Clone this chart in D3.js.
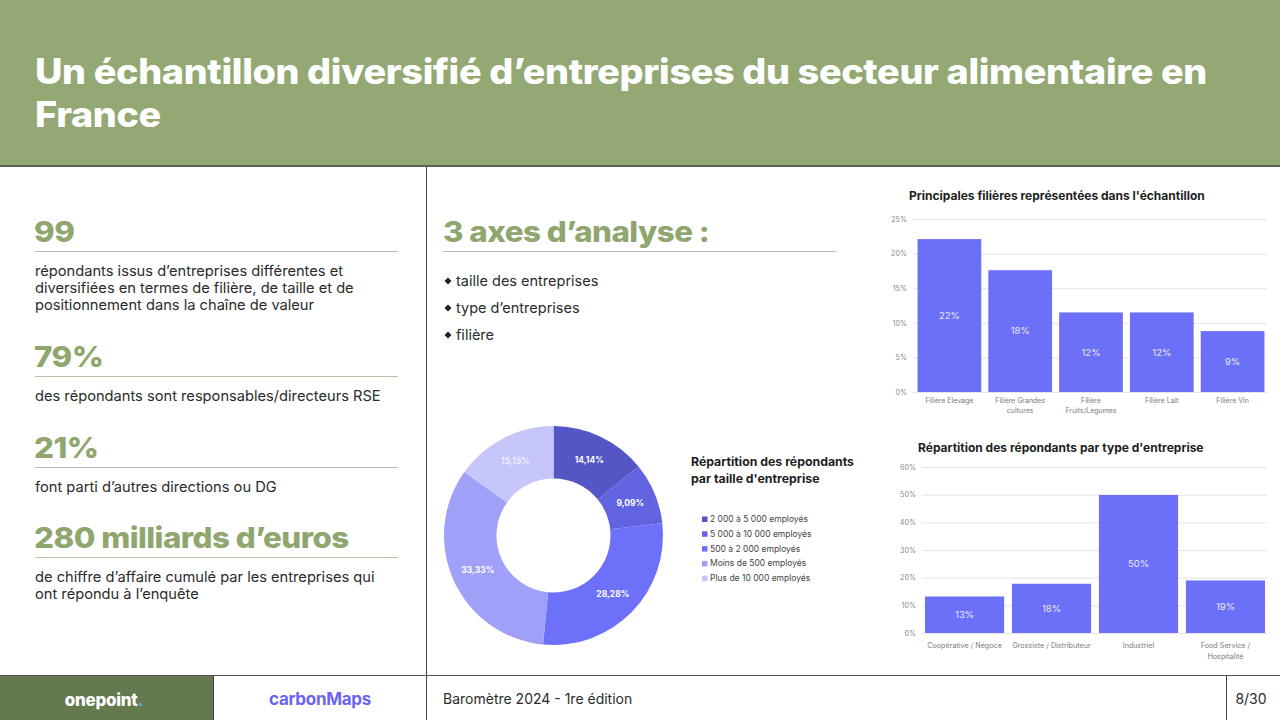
<!DOCTYPE html>
<html>
<head>
<meta charset="utf-8">
<script src="https://cdn.jsdelivr.net/npm/d3@7"></script>
<style>
  html, body { margin: 0; padding: 0; background: #fff; }
  svg { display: block; }
  text { font-family: Inter, "Noto Sans", sans-serif; }
</style>
</head>
<body>
<svg id="slide" width="1280" height="720"></svg>
<script>
// ---- data ----
const titleLines = ["Un échantillon diversifié d’entreprises du secteur alimentaire en", "France"];

const keyFigures = ["99", "79%", "21%", "280 milliards d’euros"];
const keyTexts = [
  ["répondants issus d’entreprises différentes et", "diversifiées en termes de filière, de taille et de", "positionnement dans la chaîne de valeur"],
  ["des répondants sont responsables/directeurs RSE"],
  ["font parti d’autres directions ou DG"],
  ["de chiffre d’affaire cumulé par les entreprises qui", "ont répondu à l’enquête"]
];

const axesItems = ["taille des entreprises", "type d’entreprises", "filière"];

const sizeLabels = ["2 000 à 5 000 employés", "5 000 à 10 000 employés", "500 à 2 000 employés", "Moins de 500 employés", "Plus de 10 000 employés"];
const sizeValues = [14.14, 9.09, 28.28, 33.33, 15.15];
const sizeColors = ["#5556c6", "#6163e0", "#6d70f9", "#9fa1f8", "#c6c6fa"];

const filiereLabels = [["Filière Elevage"], ["Filière Grandes", "cultures"], ["Filière", "Fruits/Legumes"], ["Filière Lait"], ["Filière Vin"]];
const filiereValues = [22.1, 17.6, 11.5, 11.5, 8.8];
const filiereTicks = [0, 5, 10, 15, 20, 25];

const typeLabels = [["Coopérative / Négoce"], ["Grossiste / Distributeur"], ["Industriel"], ["Food Service /", "Hospitalité"]];
const typeValues = [13.2, 17.8, 49.9, 19.0];
const typeTicks = [0, 10, 20, 30, 40, 50, 60];

const green = "#8fa66f";
const barColor = "#6c70f8";

const svg = d3.select("#slide");

// stretch text horizontally to imitate the wider geometric face of the original
function widen(sel, factor) {
  sel.each(function () {
    const w = this.getComputedTextLength();
    d3.select(this).attr("textLength", w * factor).attr("lengthAdjust", "spacingAndGlyphs");
  });
}

// ---- header ----
svg.append("rect").attr("x", 0).attr("y", 0).attr("width", 1280).attr("height", 166).attr("fill", "#94a874");
svg.append("rect").attr("x", 0).attr("y", 165).attr("width", 1280).attr("height", 2).attr("fill", "#5b5f57");
const title = svg.selectAll(".title").data(titleLines).enter().append("text")
  .attr("x", 35).attr("y", (d, i) => 84 + i * 43)
  .attr("fill", "#fff").attr("font-size", 35).attr("font-weight", 800)
  .attr("letter-spacing", -0.3)
  .text(d => d);
const tFactor = 1172 / title.node().getComputedTextLength();
widen(title, tFactor);

// ---- dividers ----
svg.append("line").attr("x1", 426.5).attr("x2", 426.5).attr("y1", 167).attr("y2", 720).attr("stroke", "#444").attr("stroke-width", 1);
svg.append("line").attr("x1", 0).attr("x2", 1280).attr("y1", 675.5).attr("y2", 675.5).attr("stroke", "#555").attr("stroke-width", 1.2);

// ---- left column: key figures ----
const figY = [242, 367, 458, 548];
keyFigures.forEach((f, i) => {
  const t = svg.append("text").attr("x", 34).attr("y", figY[i])
    .attr("fill", green).attr("font-size", 29).attr("font-weight", 800).attr("letter-spacing", -0.5)
    .text(f);
  widen(t, 1.08);
  svg.append("line").attr("x1", 35).attr("x2", 398).attr("y1", figY[i] + 9.5).attr("y2", figY[i] + 9.5)
    .attr("stroke", "#b9c2a8").attr("stroke-width", 1);
  const body = svg.append("g").selectAll("text").data(keyTexts[i]).enter().append("text")
    .attr("x", 35).attr("y", (d, j) => figY[i] + 34 + j * 17)
    .attr("fill", "#2b2b2b").attr("font-size", 14.3).attr("font-weight", 400)
    .text(d => d);
  widen(body, 1.025);
});

// ---- middle column ----
const axTitle = svg.append("text").attr("x", 443).attr("y", 242)
  .attr("fill", green).attr("font-size", 29).attr("font-weight", 800).attr("letter-spacing", -0.5)
  .text("3 axes d’analyse :");
widen(axTitle, 1.08);
svg.append("line").attr("x1", 443).attr("x2", 836).attr("y1", 251.5).attr("y2", 251.5)
  .attr("stroke", "#b9c2a8").attr("stroke-width", 1);
const bullets = svg.append("g").selectAll("g").data(axesItems).enter().append("g")
  .attr("transform", (d, i) => `translate(443,${282 + i * 27})`);
bullets.append("path").attr("d", "M0,-4.5 L3.5,-1 L0,2.5 L-3.5,-1 Z").attr("transform", "translate(5,0)").attr("fill", "#222");
bullets.append("text").attr("x", 13).attr("y", 4).attr("font-size", 14.5).attr("fill", "#2b2b2b").text(d => d);

// ---- donut ----
const pie = d3.pie().sort(null).value(d => d);
const arc = d3.arc().innerRadius(57).outerRadius(109.5);
const donut = svg.append("g").attr("transform", "translate(553.5,535.5)");
const arcs = pie(sizeValues);
donut.selectAll("path").data(arcs).enter().append("path")
  .attr("d", arc).attr("fill", (d, i) => sizeColors[i]);
const fmtPct = v => d3.format(".2f")(v).replace(".", ",") + "%";
donut.selectAll("text").data(arcs).enter().append("text")
  .attr("transform", d => `translate(${arc.centroid(d)})`)
  .attr("text-anchor", "middle").attr("dy", "0.35em")
  .attr("font-size", 8.5).attr("font-weight", 700)
  .attr("fill", (d, i) => i === 4 ? "#eeeeff" : "#fff")
  .text(d => fmtPct(d.data));

svg.append("g").selectAll("text").data(["Répartition des répondants", "par taille d'entreprise"]).enter().append("text")
  .attr("x", 691).attr("y", (d, i) => 466 + i * 17)
  .attr("font-size", 12.3).attr("font-weight", 700).attr("fill", "#1e1e1e")
  .text(d => d);
const legend = svg.append("g").selectAll("g").data(sizeLabels).enter().append("g")
  .attr("transform", (d, i) => `translate(702,${522 + i * 14.8})`);
legend.append("rect").attr("x", 0).attr("y", -5.5).attr("width", 5.5).attr("height", 5.5)
  .attr("fill", (d, i) => sizeColors[i]);
legend.append("text").attr("x", 8).attr("y", 0).attr("font-size", 8.5).attr("fill", "#444").text(d => d);

// ---- bar chart helper ----
function barChart(opts) {
  const g = svg.append("g");
  const x = d3.scaleBand().domain(d3.range(opts.values.length)).range(opts.xRange)
    .paddingInner(opts.padIn).paddingOuter(opts.padOut);
  const y = d3.scaleLinear().domain([0, d3.max(opts.ticks)]).range(opts.yRange);

  g.append("text").attr("x", opts.titleX).attr("y", opts.titleY)
    .attr("font-size", 12).attr("font-weight", 700).attr("fill", "#1e1e1e").text(opts.title);

  const yAxis = g.append("g").attr("transform", `translate(${opts.gridX0},0)`)
    .call(d3.axisLeft(y).tickValues(opts.ticks).tickFormat(d => d + "%")
      .tickSize(-(opts.gridX1 - opts.gridX0)).tickPadding(6));
  yAxis.select(".domain").remove();
  yAxis.selectAll(".tick line").attr("stroke", "#e4e4ea");
  yAxis.selectAll(".tick text").attr("fill", "#8a8a8a").attr("font-size", 7.2)
    .attr("font-family", opts.font);

  g.selectAll(".bar").data(opts.values).enter().append("rect")
    .attr("x", (d, i) => x(i)).attr("width", x.bandwidth())
    .attr("y", d => y(d)).attr("height", d => y(0) - y(d))
    .attr("fill", barColor);

  g.selectAll(".val").data(opts.values).enter().append("text")
    .attr("x", (d, i) => x(i) + x.bandwidth() / 2)
    .attr("y", d => (y(d) + y(0)) / 2).attr("dy", "0.35em")
    .attr("text-anchor", "middle").attr("fill", "#e9eaff")
    .attr("font-size", 9.5).attr("font-family", opts.font)
    .text(d => Math.round(d) + "%");

  const lab = g.selectAll(".lab").data(opts.labels).enter().append("text")
    .attr("x", (d, i) => x(i) + x.bandwidth() / 2).attr("y", opts.labelY)
    .attr("text-anchor", "middle").attr("fill", "#7a7a7a")
    .attr("font-size", opts.labelSize).attr("font-family", opts.font);
  lab.selectAll("tspan").data(d => d).enter().append("tspan")
    .attr("x", function () { return this.parentNode.getAttribute("x"); })
    .attr("dy", (d, j) => j === 0 ? 0 : opts.labelLine)
    .text(d => d);
}

barChart({
  title: "Principales filières représentées dans l'échantillon",
  titleX: 909, titleY: 200,
  values: filiereValues, labels: filiereLabels, ticks: filiereTicks,
  xRange: [914, 1268], padIn: 0.1, padOut: 0.05,
  yRange: [392, 219], gridX0: 913, gridX1: 1267,
  labelY: 403, labelLine: 9.5, labelSize: 7,
  font: "'Liberation Sans', Arial, sans-serif"
});

barChart({
  title: "Répartition des répondants par type d'entreprise",
  titleX: 918, titleY: 452,
  values: typeValues, labels: typeLabels, ticks: typeTicks,
  xRange: [921.5, 1268.5], padIn: 0.09, padOut: 0.04,
  yRange: [633, 467], gridX0: 922, gridX1: 1267,
  labelY: 648, labelLine: 10.5, labelSize: 7.2,
  font: "Inter, 'Noto Sans', sans-serif"
});

// ---- footer ----
svg.append("rect").attr("x", 0).attr("y", 676).attr("width", 213).attr("height", 44).attr("fill", "#647a4e");
svg.append("line").attr("x1", 213.5).attr("x2", 213.5).attr("y1", 676).attr("y2", 720).attr("stroke", "#444");
svg.append("line").attr("x1", 1226.5).attr("x2", 1226.5).attr("y1", 676).attr("y2", 720).attr("stroke", "#444");
const op = svg.append("text").attr("x", 104).attr("y", 706).attr("text-anchor", "middle")
  .attr("font-size", 17).attr("font-weight", 800).attr("fill", "#fff").attr("letter-spacing", -0.3);
op.append("tspan").text("onepoint");
op.append("tspan").attr("fill", "#3fb2e0").text(".");
svg.append("text").attr("x", 320).attr("y", 705).attr("text-anchor", "middle")
  .attr("font-size", 17).attr("font-weight", 700).attr("fill", "#6b63f3").attr("letter-spacing", -0.3)
  .text("carbonMaps");
svg.append("text").attr("x", 443).attr("y", 704).attr("font-size", 14).attr("fill", "#2b2b2b")
  .text("Baromètre 2024 - 1re édition");
svg.append("text").attr("x", 1251).attr("y", 704).attr("text-anchor", "middle").attr("font-size", 14).attr("fill", "#2b2b2b")
  .text("8/30");
</script>
</body>
</html>
